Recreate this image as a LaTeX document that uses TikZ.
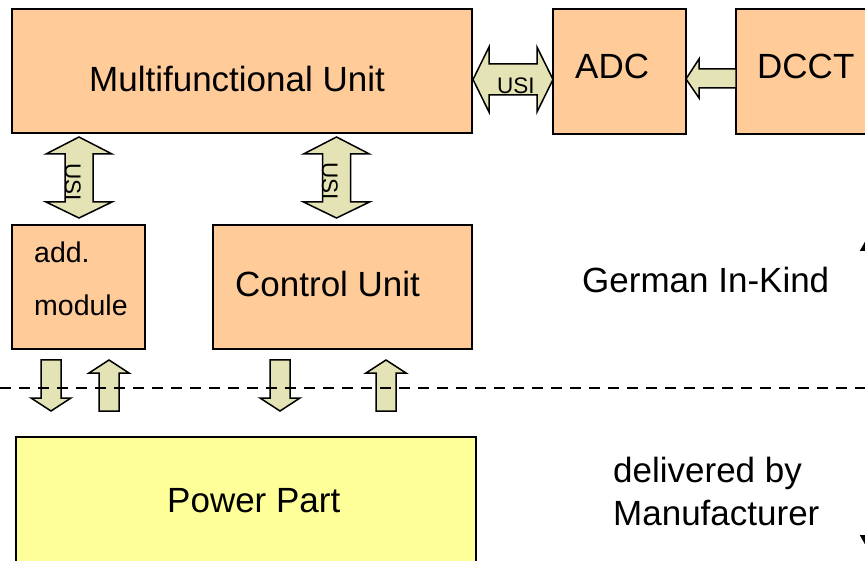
\documentclass[tikz,border=0pt]{standalone}
\usepackage{fontspec}
\setmainfont{Liberation Sans}
\usetikzlibrary{arrows.meta}
\definecolor{boxorange}{HTML}{FFCC99}
\definecolor{arrowfill}{HTML}{E3E3B5}
\definecolor{partyellow}{HTML}{FFFF99}
\begin{document}
\begin{tikzpicture}[x=1pt,y=-1pt,
  box/.style={draw=black,line width=2pt,fill=boxorange,inner sep=0pt},
  yellowbox/.style={box,fill=partyellow},
  blockarrow/.style={draw=black,line width=1.5pt,fill=arrowfill,line join=miter},
  lbl/.style={inner sep=0pt,anchor=base west,font=\fontsize{35}{40}\selectfont},
  smalllbl/.style={inner sep=0pt,anchor=base west,font=\fontsize{28.5}{32}\selectfont},
  usilbl/.style={inner sep=0pt,anchor=base west,font=\fontsize{22.5}{26}\selectfont},
  borderline/.style={line width=2.5pt,dash pattern=on 11pt off 8pt},
  rangearrow/.style={line width=2pt,{Triangle[length=13pt,width=14pt]}-{Triangle[length=13pt,width=14pt]}}]
\useasboundingbox (0,0) rectangle (865,561);
\clip (0,0) rectangle (865,561);

% boxes
\node[box,minimum width=460pt,minimum height=124pt] (mu) at (242,71) {};
\node[box,minimum width=133pt,minimum height=125pt] (adc) at (619.5,71.5) {};
\node[box,minimum width=164pt,minimum height=125pt] (dcct) at (818,71.5) {};
\node[box,minimum width=133pt,minimum height=124pt] (addm) at (78.5,287) {};
\node[box,minimum width=259pt,minimum height=124pt] (ctrl) at (342.5,287) {};
\node[yellowbox,minimum width=460pt,minimum height=163pt] (power) at (246,518.5) {};

% box texts
\node[lbl] (mutext) at (89,92) {Multifunctional Unit};
\node[lbl] (adctext) at (575,79) {ADC};
\node[lbl] (dccttext) at (757,79) {DCCT};
\node[smalllbl] (addtext) at (34,263) {add.};
\node[smalllbl] (modtext) at (34,316) {module};
\node[lbl] (ctrltext) at (235,297) {Control Unit};
\node[lbl] (powertext) at (167,512) {Power Part};

% side texts
\node[lbl] (german) at (582,293) {German In-Kind};
\node[lbl] (deliv1) at (613,482) {delivered by};
\node[lbl] (deliv2) at (613,525) {Manufacturer};

% USI link between the unit and the ADC
\draw[blockarrow] (473,79.5) -- (489,47) -- (489,64) -- (537,64) -- (537,47)
  -- (553,79.5) -- (537,112) -- (537,95) -- (489,95) -- (489,112) -- cycle;
\node[usilbl] (usih) at (497,94) {USI};

% DCCT feeding the ADC
\draw[blockarrow] (686,79) -- (699,59) -- (699,69) -- (736,69) -- (736,88)
  -- (699,88) -- (699,98) -- cycle;

% vertical USI links
\foreach \c/\nm in {79/usia,336.5/usib}{
  \draw[blockarrow] (\c,137) -- (\c+33,154) -- (\c+14,154) -- (\c+14,202)
    -- (\c+33,202) -- (\c,218) -- (\c-33,202) -- (\c-14,202) -- (\c-14,154)
    -- (\c-33,154) -- cycle;
}
\node[usilbl,rotate=-90] (usia) at (65,163) {USI};
\node[usilbl,rotate=-90] (usib) at (322,162) {USI};

% signals down to the power part
\foreach \c in {51,280}{
  \draw[blockarrow] (\c-10,360) -- (\c+10,360) -- (\c+10,398) -- (\c+20,398)
    -- (\c,411) -- (\c-20,398) -- (\c-10,398) -- cycle;
}
% signals up from the power part
\foreach \c in {109,386}{
  \draw[blockarrow] (\c,360) -- (\c+20,373) -- (\c+10,373) -- (\c+10,411)
    -- (\c-10,411) -- (\c-10,373) -- (\c-20,373) -- cycle;
}

% responsibility border
\coordinate (bl) at (0,388);
\coordinate (br) at (865,388);
\draw[borderline] (bl) -- (br);

% range arrow on the right edge
\coordinate (rtop) at (867,238);
\coordinate (rbot) at (867,548);
\draw[rangearrow] (rtop) -- (rbot);
\end{tikzpicture}
\end{document}
